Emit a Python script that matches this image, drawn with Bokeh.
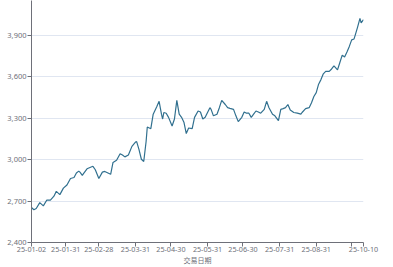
import pandas as pd
from bokeh.plotting import figure
from bokeh.models import FixedTicker, NumeralTickFormatter, DatetimeTickFormatter, Range1d
from bokeh.embed import file_html
from bokeh.resources import INLINE

# ---- data ----
dates = [
    "01-02", "01-04", "01-06", "01-09", "01-12", "01-15", "01-18", "01-21", "01-23", "01-26",
    "01-29", "02-01", "02-04", "02-07", "02-09", "02-11", "02-12", "02-14", "02-15", "02-18",
    "02-21", "02-23", "02-25", "02-28", "03-03", "03-05", "03-10", "03-12", "03-15", "03-18",
    "03-20", "03-22", "03-25", "03-28", "03-31", "04-01", "04-03", "04-05", "04-07", "04-09",
    "04-10", "04-13", "04-15", "04-18", "04-20", "04-22", "04-23", "04-24", "04-26", "04-28",
    "05-01", "05-03", "05-05", "05-07", "05-09", "05-11", "05-13", "05-15", "05-18", "05-20",
    "05-23", "05-25", "05-27", "05-29", "05-31", "06-02", "06-03", "06-05", "06-08", "06-10",
    "06-12", "06-15", "06-17", "06-19", "06-22", "06-24", "06-26", "06-29", "07-01", "07-03",
    "07-05", "07-07", "07-09", "07-11", "07-13", "07-15", "07-18", "07-20", "07-22", "07-25",
    "07-27", "07-30", "08-01", "08-03", "08-05", "08-07", "08-09", "08-12", "08-15", "08-18",
    "08-19", "08-22", "08-25", "08-27", "08-29", "08-31", "09-02", "09-04", "09-06", "09-08",
    "09-11", "09-13", "09-15", "09-18", "09-20", "09-22", "09-24", "09-26", "09-28", "09-30",
    "10-02", "10-03", "10-05", "10-07", "10-08", "10-10",
]
values = [
    2653, 2637, 2646, 2688, 2665, 2707, 2707, 2735, 2770, 2746,
    2793, 2816, 2863, 2870, 2902, 2916, 2909, 2886, 2898, 2933,
    2944, 2951, 2926, 2863, 2909, 2914, 2893, 2979, 2995, 3042,
    3033, 3019, 3033, 3095, 3126, 3130, 3072, 3002, 2986, 3130,
    3235, 3223, 3328, 3381, 3421, 3328, 3293, 3340, 3335, 3305,
    3242, 3293, 3428, 3328, 3305, 3270, 3188, 3228, 3223, 3305,
    3351, 3344, 3293, 3305, 3340, 3375, 3363, 3316, 3328, 3375,
    3428, 3398, 3375, 3370, 3363, 3316, 3274, 3305, 3344, 3335,
    3335, 3305, 3328, 3351, 3344, 3335, 3363, 3421, 3375, 3328,
    3316, 3281, 3363, 3368, 3375, 3398, 3358, 3340, 3335, 3328,
    3340, 3368, 3375, 3410, 3456, 3484, 3545, 3578, 3620, 3638,
    3638, 3655, 3678, 3648, 3702, 3755, 3741, 3778, 3818, 3865,
    3872, 3900, 3958, 4021, 3988, 4011,
]
tick_dates = ["2025-01-02", "2025-01-31", "2025-02-28", "2025-03-31", "2025-04-30",
              "2025-05-31", "2025-06-30", "2025-07-31", "2025-08-31", "2025-10-10"]
unlabeled_tick_dates = ["2025-09-30"]
y_ticks = [2400, 2700, 3000, 3300, 3600, 3900]
x_title = "交易日期"

# ---- chart ----
x = pd.to_datetime(["2025-" + d for d in dates])

def ms(d):
    return pd.Timestamp(d).timestamp() * 1000.0

x_start, x_end = ms("2025-01-02"), ms("2025-10-10")

p = figure(width=393, height=267, x_axis_type="datetime",
           output_backend="svg", toolbar_location=None,
           x_range=Range1d(x_start, x_end),
           y_range=Range1d(2400, 4150),
           min_border_left=31, min_border_right=30,
           min_border_top=0, min_border_bottom=0)
p.outline_line_color = None
p.background_fill_color = "white"
p.border_fill_color = "white"

p.line(x, values, line_color="#31708f", line_width=1.2)

axis_color = "#6E7079"
font = "Noto Sans"

xa = p.xaxis[0]
xa.ticker = FixedTicker(ticks=[ms(d) for d in tick_dates],
                        minor_ticks=[ms(d) for d in unlabeled_tick_dates])
fmt = "%y-%m-%d"
xa.formatter = DatetimeTickFormatter(years=fmt, months=fmt, days=fmt, hours=fmt,
                                     hourmin=fmt, minutes=fmt, minsec=fmt,
                                     seconds=fmt, milliseconds=fmt, microseconds=fmt)
xa.axis_line_color = axis_color
xa.major_tick_line_color = axis_color
xa.minor_tick_line_color = axis_color
xa.major_tick_out = 4
xa.major_tick_in = 0
xa.minor_tick_out = 4
xa.minor_tick_in = 0
xa.major_label_standoff = 0
xa.major_label_text_font = font
xa.major_label_text_font_size = "7.2px"
xa.major_label_text_color = axis_color
xa.axis_label = x_title
xa.axis_label_text_font = "Noto Sans CJK SC"
xa.axis_label_text_font_size = "7px"
xa.axis_label_text_font_style = "normal"
xa.axis_label_text_color = axis_color
xa.axis_label_standoff = 0

ya = p.yaxis[0]
ya.ticker = FixedTicker(ticks=y_ticks)
ya.formatter = NumeralTickFormatter(format="0,0")
ya.axis_line_color = axis_color
ya.major_tick_line_color = axis_color
ya.minor_tick_line_color = None
ya.major_tick_out = 4
ya.major_tick_in = 0
ya.major_label_standoff = 1
ya.major_label_text_font = font
ya.major_label_text_font_size = "7.5px"
ya.major_label_text_color = axis_color

p.xgrid.grid_line_color = None
p.ygrid.grid_line_color = "#E0E6F1"
p.ygrid.grid_line_width = 1

open("out.html", "w").write(file_html(p, INLINE))
